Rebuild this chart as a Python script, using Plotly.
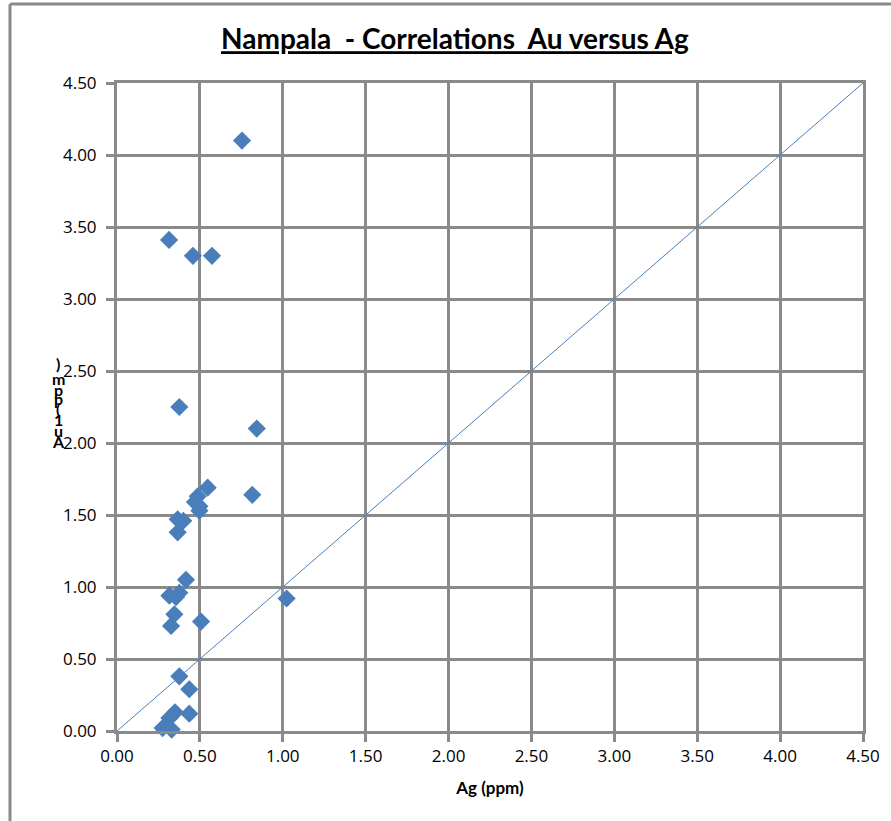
import plotly.graph_objects as go

# Assay pairs: silver (x) and gold (y), both in ppm
ag_ppm = [0.754, 0.314, 0.458, 0.573, 0.376, 0.843, 0.547, 0.816, 0.487, 0.470,
          0.497, 0.497, 0.366, 0.400, 0.366, 0.416, 0.316, 0.356, 0.376, 0.346,
          0.326, 0.507, 1.023, 0.376, 0.436, 0.436, 0.350, 0.316, 0.275, 0.330]
au_ppm = [4.10, 3.41, 3.30, 3.30, 2.25, 2.10, 1.69, 1.64, 1.63, 1.59,
          1.56, 1.53, 1.47, 1.46, 1.38, 1.05, 0.94, 0.93, 0.96, 0.81,
          0.73, 0.76, 0.92, 0.38, 0.29, 0.12, 0.13, 0.09, 0.02, 0.01]

# 1:1 reference line
one_to_one = [0.0, 4.5]

tick_vals = [0.0, 0.5, 1.0, 1.5, 2.0, 2.5, 3.0, 3.5, 4.0, 4.5]
tick_text = ["0.00", "0.50", "1.00", "1.50", "2.00", "2.50", "3.00", "3.50", "4.00", "4.50"]

title_text = "Nampala  - Correlations  Au versus Ag"
x_title = "Ag (ppm)"
y_title_chars = ["A", "u", "1", "(", "p", "p", "m", ")"]

GRID = "#8a8a8a"
BLUE = "#4a7ebb"

fig = go.Figure()
fig.add_trace(go.Scatter(x=one_to_one, y=one_to_one, mode="lines",
                         line=dict(color=BLUE, width=1), hoverinfo="skip"))
fig.add_trace(go.Scatter(x=ag_ppm, y=au_ppm, mode="markers",
                         marker=dict(symbol="diamond", size=14, color=BLUE,
                                     line=dict(width=0)),
                         cliponaxis=False))

axis_common = dict(
    range=[0, 4.5], tickvals=tick_vals, ticktext=tick_text,
    showgrid=True, gridcolor=GRID, gridwidth=3,
    showline=True, linecolor=GRID, linewidth=3, mirror=True,
    ticks="outside", ticklen=8, tickwidth=3, tickcolor=GRID,
    zeroline=False, tickfont=dict(family="Open Sans", size=17, color="#000"),
    fixedrange=True,
)

fig.update_layout(
    width=891, height=821,
    margin=dict(l=117, r=28, t=83, b=90),
    paper_bgcolor="white", plot_bgcolor="white",
    showlegend=False,
    title=dict(text="<b>" + title_text + "</b>", x=0.453, xref="paper",
               xanchor="center", y=0.952, yref="container", yanchor="middle",
               font=dict(family="Lato", size=28, color="#000", lineposition="under")),
    xaxis=dict(**axis_common,
               title=dict(text="<b>" + x_title + "</b>", standoff=16,
                          font=dict(family="Lato", size=17, color="#000"))),
    yaxis=dict(**axis_common, ticklabelstandoff=6),
)

# Vertically stacked y-axis title, one glyph per annotation
char_px = [441, 430, 419, 408, 399, 389, 378, 363]
for ch, py in zip(y_title_chars, char_px):
    fig.add_annotation(text="<b>" + ch + "</b>", xref="paper", yref="paper",
                       x=(58 - 117) / 746, y=(731 - py) / 648,
                       showarrow=False, xanchor="center", yanchor="middle",
                       borderpad=0,
                       font=dict(family="Lato", size=16, color="#000"))

# Chart-area frame (left and top edges)
frame_x0 = (10 - 117) / 746
frame_ytop = (731 - 4) / 648
frame_ybot = (731 - 830) / 648
fig.add_shape(type="line", xref="paper", yref="paper", x0=frame_x0, x1=frame_x0,
              y0=frame_ybot, y1=frame_ytop, line=dict(color=GRID, width=3))
fig.add_shape(type="line", xref="paper", yref="paper", x0=frame_x0, x1=1.1,
              y0=frame_ytop, y1=frame_ytop, line=dict(color=GRID, width=3))

fig.write_html("out.html")
